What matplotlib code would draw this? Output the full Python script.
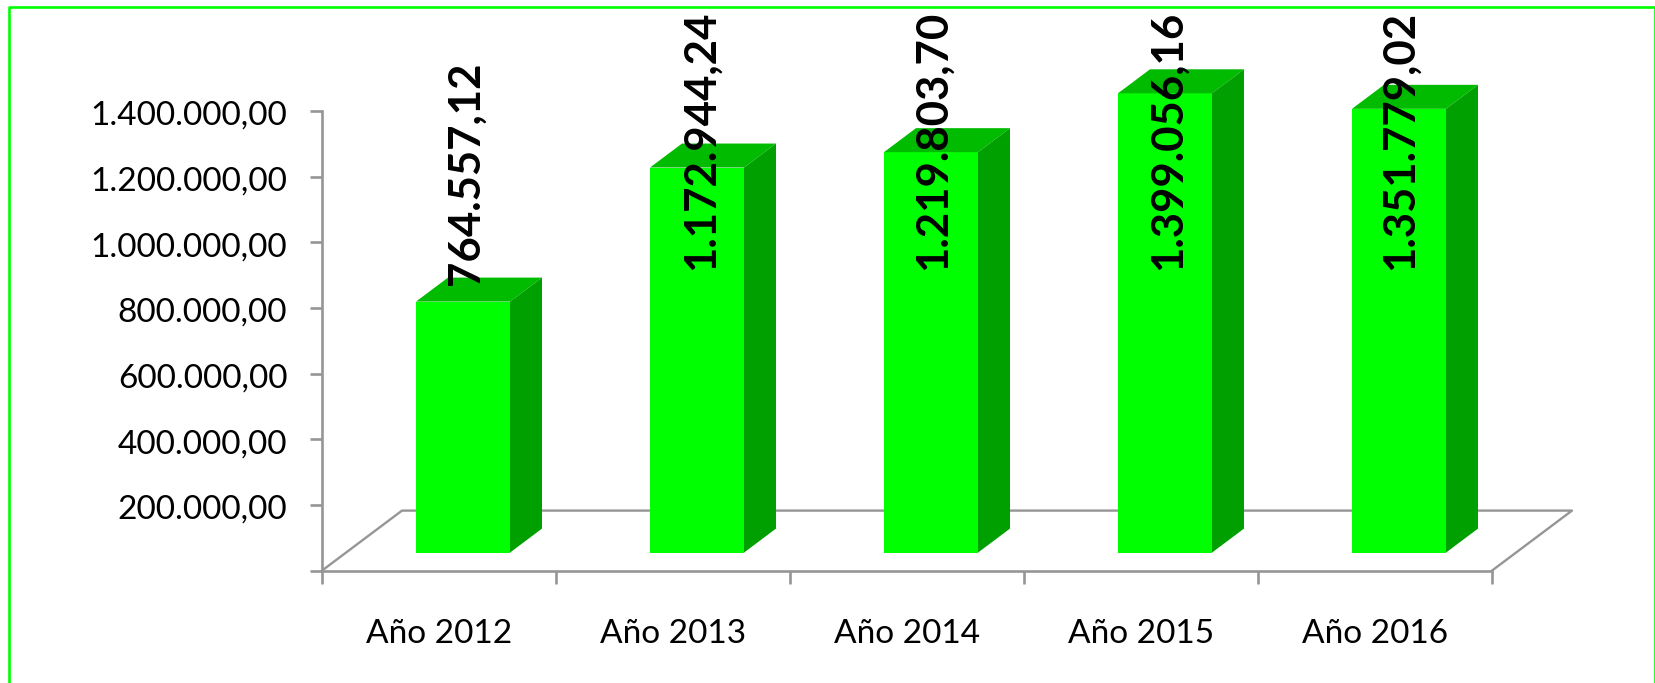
import matplotlib
matplotlib.use('Agg')
import matplotlib.pyplot as plt
from matplotlib.patches import Polygon
from matplotlib.transforms import ScaledTranslation

# Data.
years = ['Año 2012', 'Año 2013', 'Año 2014', 'Año 2015', 'Año 2016']
values = [764557.12, 1172944.24, 1219803.70, 1399056.16, 1351779.02]
value_labels = ['764.557,12', '1.172.944,24', '1.219.803,70', '1.399.056,16', '1.351.779,02']
y_ticks = [0, 200000, 400000, 600000, 800000, 1000000, 1200000, 1400000]
y_tick_labels = ['', '200.000,00', '400.000,00', '600.000,00', '800.000,00',
                 '1.000.000,00', '1.200.000,00', '1.400.000,00']

W, H = 1656, 683
GREEN = '#00ff00'
TOP = '#00bb00'
SIDE = '#00a000'
GRAY = '#969696'

plt.rcParams['font.family'] = ['Lato', 'DejaVu Sans']

fig = plt.figure(figsize=(W / 100, H / 100), dpi=100)

# Axes plane runs from x=322 to 1492 and y=570.6 to 111 in pixels.
ax = fig.add_axes([322 / W, 1 - 570.6 / H, (1492 - 322) / W, (570.6 - 111) / H])
ax.set_xlim(0, len(years))
ax.set_ylim(0, 1400000)
ax.patch.set_visible(False)

px_x = len(years) / (1492 - 322)
px_y = 1400000 / (570.6 - 111)


def shift(x, y, dx_px, dy_px):
    # Move a data point by a pixel offset, for the fake 3D depth.
    return (x + dx_px * px_x, y + dy_px * px_y)


# Floor of the 3D box.
floor = [shift(0, 0, 0, 0), shift(0, 0, 80, 60), shift(len(years), 0, 80, 60), shift(len(years), 0, 0, 0)]
ax.plot([p[0] for p in floor], [p[1] for p in floor], color=GRAY, lw=1.7, clip_on=False, zorder=1)

# Bars: front face, top and side.
bar_w = 94 * px_x
for i, val in enumerate(values):
    left = i + 0.5 - bar_w / 2 + 24 * px_x
    right = left + bar_w
    base = 18 * px_y
    top = base + val
    ax.bar(left, val, bar_w, bottom=base, align='edge', color=GREEN, clip_on=False, zorder=3)
    ax.add_patch(Polygon([(left, top), (right, top), shift(right, top, 32, 24), shift(left, top, 32, 24)],
                         closed=True, fc=TOP, ec='none', clip_on=False, zorder=3))
    ax.add_patch(Polygon([(right, base), shift(right, base, 32, 24), shift(right, top, 32, 24), (right, top)],
                         closed=True, fc=SIDE, ec='none', clip_on=False, zorder=3))

# Value labels, rotated. The first sits on its bar, the rest start at the same height.
label_x = [466, 701, 933, 1168, 1400]
label_bottom = [285, 270, 270, 270, 270]
for i, txt in enumerate(value_labels):
    fig.text(label_x[i] / W, 1 - label_bottom[i] / H, txt, rotation=90, ha='center', va='bottom',
             fontsize=31.5, fontweight='bold', color='black', zorder=5)

# Axes lines and ticks.
for s in ['top', 'right']:
    ax.spines[s].set_visible(False)
for s in ['left', 'bottom']:
    ax.spines[s].set_color(GRAY)
    ax.spines[s].set_linewidth(1.9)
ax.set_yticks(y_ticks)
ax.set_yticklabels(y_tick_labels)
ax.set_xticks(range(len(years) + 1))
ax.set_xticklabels([])
ax.tick_params(axis='y', length=9, width=1.9, color=GRAY, labelsize=24, pad=16)
ax.tick_params(axis='x', length=9, width=1.9, color=GRAY)

# The y labels sit about 2 px below their ticks.
nudge = ScaledTranslation(0, -2 / 100, fig.dpi_scale_trans)
for lab in ax.get_yticklabels():
    lab.set_transform(lab.get_transform() + nudge)

# Category names sit between the ticks.
for i, name in enumerate(years):
    ax.annotate(name, xy=(i + 0.5, 0), xycoords='data', xytext=(0, -63), textcoords='offset pixels',
                ha='center', va='center', fontsize=24, annotation_clip=False)

# Chart frame: no bottom edge in the picture.
fig.add_artist(plt.Line2D([8.5 / W, 8.5 / W, 1655 / W, 1655 / W],
                          [1 - 682 / H, 1 - 6.5 / H, 1 - 6.5 / H, 1 - 682 / H],
                          color=GREEN, lw=1.9))

fig.savefig('out.png', dpi=100, facecolor='white')
